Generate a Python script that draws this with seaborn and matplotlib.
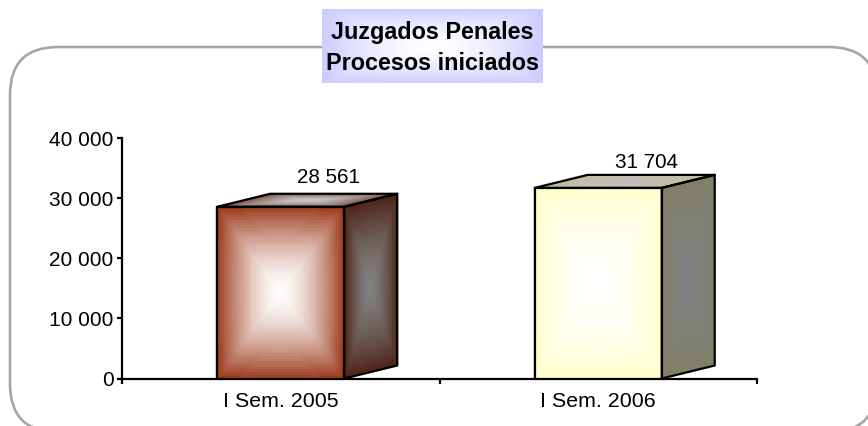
import numpy as np
import pandas as pd
import matplotlib
matplotlib.use('Agg')
import matplotlib.pyplot as plt
import seaborn as sns
from matplotlib.colors import to_rgb
from matplotlib.patches import FancyBboxPatch, Polygon

# data
periodos = ['I Sem. 2005', 'I Sem. 2006']
procesos = [28561, 31704]
etiquetas = ['28 561', '31 704']
y_ticks = [0, 10000, 20000, 30000, 40000]
y_labels = ['0', '10 000', '20 000', '30 000', '40 000']
titulo = 'Juzgados Penales\nProcesos iniciados'

# edge colours of the three faces, all fade to the centre colour
frente = ['#9c3a1c', '#ffffcc']
frente_c = ['#ffffff', '#ffffff']
lado = ['#4e2317', '#808066']
lado_c = ['#808080', '#808080']
tapa = ['#7a5044', '#bfbf99']
tapa_c = ['#c8c8c8', '#bfbfbf']

sns.set_theme(style='white')
plt.rcParams['font.family'] = ['Liberation Sans', 'DejaVu Sans']

W, H = 868, 426
fig = plt.figure(figsize=(W / 100, H / 100), dpi=100)


def degradado(c_borde, c_centro, n=130, pasos=32):
    # rectangular gradient, white core in the middle, fading out to the edge
    u, v = np.meshgrid(np.linspace(-1, 1, n), np.linspace(-1, 1, n))
    t = np.maximum(np.abs(u), np.abs(v)) * 0.9 + np.sqrt(u**2 + v**2) / 1.414 * 0.1
    t = np.clip(np.ceil(t * pasos) / pasos, 0, 1)
    t = (t ** 1.6)[..., None]
    return (1 - t) * np.array(to_rgb(c_centro)) + t * np.array(to_rgb(c_borde))


# background layer in pixel coordinates for the frame and the title box
bg = fig.add_axes([0, 0, 1, 1], zorder=0)
bg.set_xlim(0, W)
bg.set_ylim(H, 0)
bg.axis('off')
bg.add_patch(FancyBboxPatch((10 + 48, 47 + 48), 867 - 96, 385 - 96,
                            boxstyle='round,pad=48,rounding_size=48',
                            fc='white', ec='#a6a6a6', lw=1.9, clip_on=False))
bg.imshow(degradado('#ccccff', '#ffffff', n=90, pasos=30), extent=(322, 543, 83, 9),
          aspect='auto', zorder=3, interpolation='bilinear')
bg.set_xlim(0, W)
bg.set_ylim(H, 0)
bg.text(432, 48, titulo, ha='center', va='center', fontsize=16.8, fontweight='bold',
        color='black', linespacing=1.4, zorder=4)

# plot area
pos = [122 / W, 1 - 378.5 / H, 635 / W, 240.5 / H]
ax = fig.add_axes(pos, zorder=1)
ax.patch.set_alpha(0)

df = pd.DataFrame({'periodo': periodos, 'procesos': procesos})
sns.barplot(data=df, x='periodo', y='procesos', hue='periodo', palette=frente, width=0.4,
            legend=False, edgecolor='black', linewidth=1.6, ax=ax, zorder=3)

ax.set_xlim(-0.5, 1.5)
ax.set_ylim(0, 40000)
ax.set_xlabel('')
ax.set_ylabel('')

# second axes with a plain numeric x, same limits, for the faces of the boxes
caja = fig.add_axes(pos, zorder=2)
caja.set_xlim(-0.5, 1.5)
caja.set_ylim(0, 40000)
caja.axis('off')

# depth of the 3D box, in data units
dx = 53 / 317.5
dy = 13 / 240.5 * 40000

barras = [p for p in ax.patches if p.get_height() > 0]
for i, b in enumerate(barras):
    x0, x1 = b.get_x(), b.get_x() + b.get_width()
    y1 = b.get_height()
    S, R = np.meshgrid(np.linspace(0, 1, 131), np.linspace(0, 1, 131))

    # front
    caja.pcolormesh(x0 + S * (x1 - x0), R * y1, degradado(frente[i], frente_c[i]),
                    shading='flat', zorder=4, linewidth=0)
    # side
    caja.pcolormesh(x1 + S * dx, R * y1 + S * dy, degradado(lado[i], lado_c[i]),
                    shading='flat', zorder=4, linewidth=0)
    # top
    caja.pcolormesh(x0 + S * (x1 - x0) + R * dx, y1 + R * dy, degradado(tapa[i], tapa_c[i]),
                    shading='flat', zorder=4, linewidth=0)

    for pts in ([(x0, 0), (x1, 0), (x1, y1), (x0, y1)],
                [(x1, 0), (x1 + dx, dy), (x1 + dx, y1 + dy), (x1, y1)],
                [(x0, y1), (x1, y1), (x1 + dx, y1 + dy), (x0 + dx, y1 + dy)]):
        caja.add_patch(Polygon(pts, closed=True, fc='none', ec='black', lw=1.6, zorder=5,
                               joinstyle='round'))

    caja.annotate(etiquetas[i], xy=((x0 + x1) / 2 + dx * 0.905, y1 + dy), xytext=(0, 7 - 4 * i),
                  textcoords='offset pixels', ha='center', va='bottom', fontsize=14.9,
                  color='black', zorder=6)

caja.set_xlim(-0.5, 1.5)
caja.set_ylim(0, 40000)

sns.despine(ax=ax)
for lado_eje in ['left', 'bottom']:
    ax.spines[lado_eje].set_color('black')
    ax.spines[lado_eje].set_linewidth(1.6)

ax.set_yticks(y_ticks)
ax.set_yticklabels(y_labels, fontsize=15, color='black')
ax.tick_params(axis='y', which='major', left=True, length=3.5, width=1.6, color='black', pad=2.5)

# ticks between categories, labels under the categories
ax.set_xticks([-0.5, 0.5, 1.5])
ax.set_xticklabels(['', '', ''])
ax.set_xticks([0, 1], minor=True)
ax.set_xticklabels(periodos, minor=True, fontsize=15.4, color='black')
ax.tick_params(axis='x', which='major', bottom=True, length=3.5, width=1.6, color='black')
ax.tick_params(axis='x', which='minor', bottom=False, length=0, pad=9.5)
ax.grid(False)

fig.savefig('out.png', dpi=100)
